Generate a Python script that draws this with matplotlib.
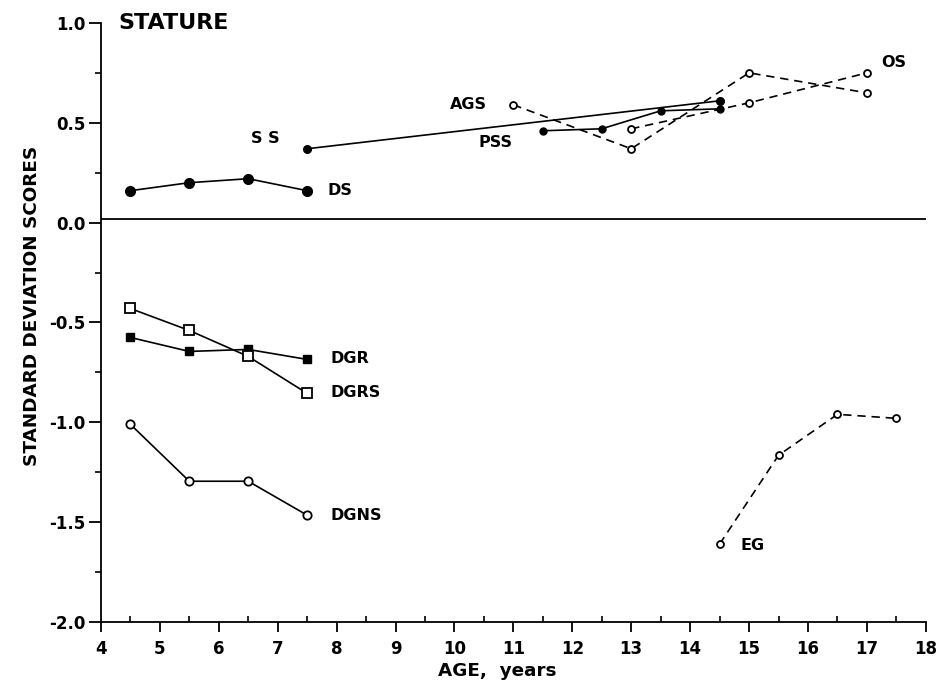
import matplotlib
matplotlib.use("Agg")
from matplotlib import pyplot as plt
from matplotlib.ticker import MultipleLocator

plt.rcParams['font.family'] = ['DejaVu Sans']
plt.rcParams['font.weight'] = 'bold'

# values (age in years, SD score)
ds_age = [4.5, 5.5, 6.5, 7.5]
ds_sd = [0.16, 0.20, 0.22, 0.16]

ss_age = [7.5, 14.5]
ss_sd = [0.37, 0.61]

pss_age = [11.5, 12.5, 13.5, 14.5]
pss_sd = [0.46, 0.47, 0.56, 0.57]

ags_age = [11, 13, 15, 17]
ags_sd = [0.59, 0.37, 0.75, 0.65]

os_age = [13, 15, 17]
os_sd = [0.47, 0.60, 0.75]

dgr_age = [4.5, 5.5, 6.5, 7.5]
dgr_sd = [-0.575, -0.645, -0.635, -0.685]

dgrs_age = [4.5, 5.5, 6.5, 7.5]
dgrs_sd = [-0.43, -0.54, -0.67, -0.855]

dgns_age = [4.5, 5.5, 6.5, 7.5]
dgns_sd = [-1.01, -1.295, -1.295, -1.465]

eg_age = [14.5, 15.5, 16.5, 17.5]
eg_sd = [-1.61, -1.165, -0.96, -0.98]

fig = plt.figure(figsize=(9.52, 6.87), dpi=100)
ax = fig.add_axes([0.106, 0.0946, 0.8665, 0.872])

lw = 1.2
dash = (0, (5, 3.5))
open_c = dict(marker='o', mfc='white', mec='black', mew=1.3, ms=5)

ax.axhline(0.02, xmin=0, xmax=1, color='black', lw=1.3)

ax.plot(ds_age, ds_sd, color='black', lw=lw, marker='o', ms=7)
ax.plot(ss_age, ss_sd, color='black', lw=lw, marker='o', ms=5.5)
ax.plot(pss_age, pss_sd, color='black', lw=lw, marker='o', ms=5)
ax.plot(ags_age, ags_sd, color='black', lw=lw, ls=dash, **open_c)
ax.plot(os_age, os_sd, color='black', lw=lw, ls=dash, **open_c)

ax.plot(dgr_age, dgr_sd, color='black', lw=lw, marker='s', ms=6)
ax.plot(dgrs_age, dgrs_sd, color='black', lw=lw, marker='s', mfc='white',
        mec='black', mew=1.3, ms=6.5)
ax.plot(dgns_age, dgns_sd, color='black', lw=lw, marker='o', mfc='white',
        mec='black', mew=1.3, ms=6)
ax.plot(eg_age, eg_sd, color='black', lw=lw, ls=dash, **open_c)

lab = dict(fontsize=11.5, fontweight='bold', va='center')
ax.text(7.85, 0.16, 'DS', **lab)
ax.text(6.55, 0.42, 'S S', **lab)
ax.text(10.55, 0.59, 'AGS', ha='right', **lab)
ax.text(10.4, 0.40, 'PSS', **lab)
ax.text(17.25, 0.80, 'OS', **lab)
ax.text(7.9, -0.68, 'DGR', **lab)
ax.text(7.9, -0.85, 'DGRS', **lab)
ax.text(7.9, -1.465, 'DGNS', **lab)
ax.text(14.85, -1.615, 'EG', **lab)
ax.text(4.3, 1.0, 'STATURE', fontsize=16, fontweight='bold', va='center')

ax.set_xlim(4, 18)
ax.set_ylim(-2, 1)
ax.spines['top'].set_visible(False)
ax.spines['right'].set_visible(False)
ax.spines['left'].set_linewidth(1.3)
ax.spines['bottom'].set_linewidth(1.3)

ax.xaxis.set_major_locator(MultipleLocator(1))
ax.xaxis.set_minor_locator(MultipleLocator(0.5))
ax.yaxis.set_major_locator(MultipleLocator(0.5))
ax.yaxis.set_minor_locator(MultipleLocator(0.25))
ax.tick_params(axis='x', which='major', direction='out', length=7, width=1.3,
               labelsize=12, pad=6)
ax.tick_params(axis='x', which='minor', direction='in', length=4, width=1.2)
ax.tick_params(axis='y', which='major', direction='out', length=9, width=1.3,
               labelsize=12, pad=2)
ax.tick_params(axis='y', which='minor', direction='out', length=4, width=1.2)
ax.set_yticklabels([f'{v:.1f}' for v in ax.get_yticks()])
for t in ax.get_xticklabels() + ax.get_yticklabels():
    t.set_fontweight('bold')

ax.set_xlabel('AGE,  years', fontsize=13.2, fontweight='bold', labelpad=6)
ax.xaxis.set_label_coords(0.48, -0.067)
ax.set_ylabel('STANDARD DEVIATION SCORES', fontsize=13.2, fontweight='bold')
ax.yaxis.set_label_coords(-0.073, 0.527)

fig.savefig('out.png', dpi=100)
